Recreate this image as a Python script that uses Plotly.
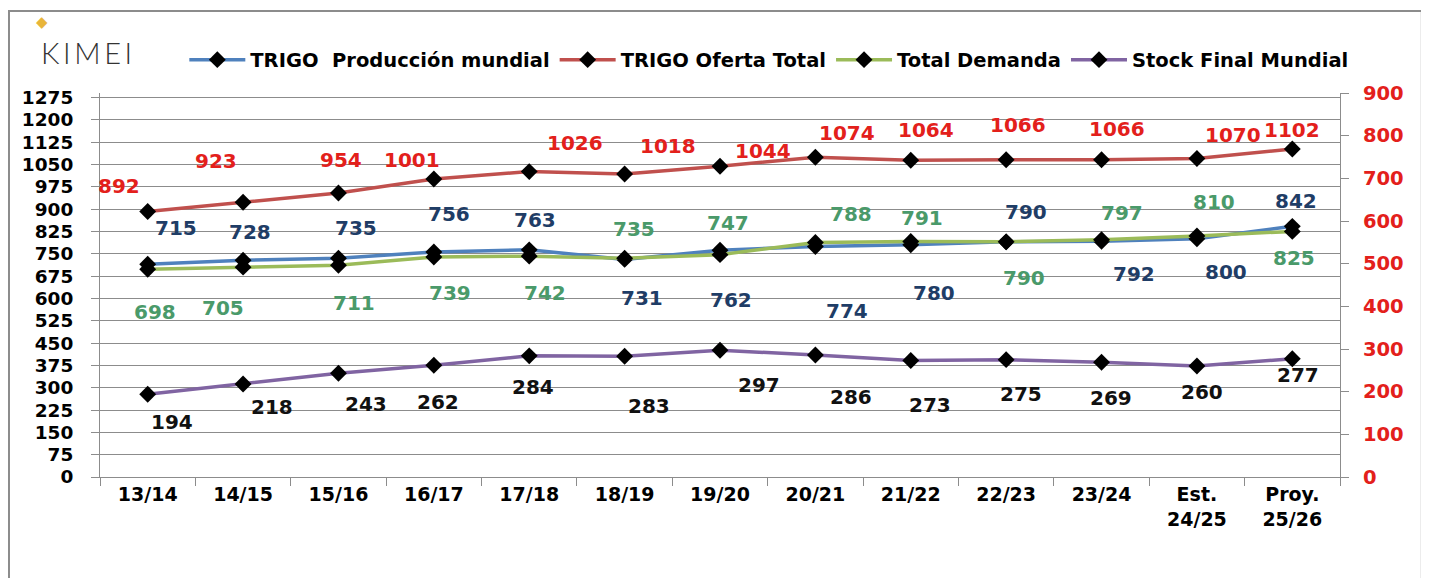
import plotly.graph_objects as go

categories = ["13/14", "14/15", "15/16", "16/17", "17/18", "18/19", "19/20", "20/21",
              "21/22", "22/23", "23/24", "Est.<br>24/25", "Proy.<br>25/26"]
produccion = [715, 728, 735, 756, 763, 731, 762, 774, 780, 790, 792, 800, 842]
oferta = [892, 923, 954, 1001, 1026, 1018, 1044, 1074, 1064, 1066, 1066, 1070, 1102]
demanda = [698, 705, 711, 739, 742, 735, 747, 788, 791, 790, 797, 810, 825]
stock = [194, 218, 243, 262, 284, 283, 297, 286, 273, 275, 269, 260, 277]
left_ticks = list(range(0, 1276, 75))
right_ticks = list(range(0, 901, 100))

# label offsets in pixels (dx, dy down positive)
off_prod = [(28, -36), (7, -28), (18, -30), (15, -38), (6, -30), (17, 39), (11, 50),
            (32, 64), (23, 48), (20, -30), (32, 33), (29, 33), (4, -25)]
off_of = [(-29, -25), (-27, -41), (3, -33), (-22, -19), (46, -29), (43, -28), (43, -15),
          (32, -24), (15, -30), (12, -35), (15, -31), (36, -23), (0, -19)]
off_dem = [(7, 43), (-20, 41), (16, 38), (16, 36), (16, 37), (9, -29), (8, -32),
           (36, -28), (11, -24), (18, 36), (20, -27), (17, -34), (2, 27)]
off_stk = [(24, 28), (29, 23), (28, 31), (4, 37), (4, 31), (24, 50), (39, 35),
           (36, 42), (19, 44), (15, 34), (9, 36), (5, 26), (6, 16)]

FONT = "DejaVu Sans"
fig = go.Figure()
marker = dict(symbol="diamond", size=13, color="black")
series = [
    ("TRIGO  Producción mundial", produccion, "#4F81BD", "y", "#1F3D66", off_prod),
    ("TRIGO Oferta Total", oferta, "#C0504D", "y", "#E3201B", off_of),
    ("Total Demanda", demanda, "#9BBB59", "y", "#4A9A6A", off_dem),
    ("Stock Final Mundial", stock, "#8064A2", "y2", "#111111", off_stk),
]
annotations = []
for name, vals, col, yax, lcol, offs in series:
    fig.add_trace(go.Scatter(x=categories, y=vals, name=name, mode="lines+markers",
                             line=dict(color=col, width=3.5), marker=marker, yaxis=yax))
    for c, v, (dx, dy) in zip(categories, vals, offs):
        annotations.append(dict(x=c, y=v, xref="x", yref=yax, text=str(v), showarrow=False,
                                xshift=dx, yshift=-dy,
                                font=dict(family=FONT, size=20, color=lcol, weight="bold")))

annotations.append(dict(x=-0.0105, y=1.105, xref="paper", yref="paper",
                        text="K\u2009I\u2009M\u2009E\u2009I",
                        showarrow=False, xanchor="center", yanchor="middle",
                        font=dict(family="Lato", size=29, color="#333333", weight=300)))
annotations.append(dict(x=-0.047, y=1.185, xref="paper", yref="paper", text="◆",
                        showarrow=False, xanchor="center", yanchor="middle",
                        font=dict(family=FONT, size=15, color="#E8B53A")))

fig.update_layout(
    width=1429, height=578,
    margin=dict(l=92, r=97, t=85, b=109),
    paper_bgcolor="white", plot_bgcolor="white",
    font=dict(family=FONT, color="black"),
    showlegend=True,
    legend=dict(orientation="h", x=0.068, y=1.086, xanchor="left", yanchor="middle",
                font=dict(family=FONT, size=19.5, color="black", weight="bold"),
                itemwidth=56, tracegroupgap=0, bgcolor="rgba(0,0,0,0)"),
    xaxis=dict(type="category", range=[-0.5, 12.5], showgrid=False, showline=True,
               linecolor="#8c8c8c", linewidth=1, ticks="outside", tickson="boundaries",
               ticklen=8, tickcolor="#8c8c8c",
               tickfont=dict(family=FONT, size=19, color="black", weight="bold")),
    yaxis=dict(range=[0, 1290], tickvals=left_ticks, showgrid=True, gridcolor="#8c8c8c",
               gridwidth=1, showline=True, linecolor="#8c8c8c", ticks="outside", ticklen=8,
               tickcolor="#8c8c8c", zeroline=False, ticklabelstandoff=14,
               tickfont=dict(family=FONT, size=18.5, color="black", weight="bold")),
    yaxis2=dict(range=[0, 900], tickvals=right_ticks, overlaying="y", side="right",
                showgrid=False, showline=True, linecolor="#8c8c8c", ticks="outside",
                ticklen=8, tickcolor="#8c8c8c", zeroline=False, ticklabelstandoff=10,
                tickfont=dict(family=FONT, size=19.5, color="#E3201B", weight="bold")),
    annotations=annotations,
    shapes=[dict(type="rect", xref="paper", yref="paper", x0=-0.0734, x1=1.066,
                 y0=-0.35, y1=1.2135, line=dict(color="#8c8c8c", width=2),
                 fillcolor="rgba(0,0,0,0)", layer="below")],
)

fig.write_html("out.html")
